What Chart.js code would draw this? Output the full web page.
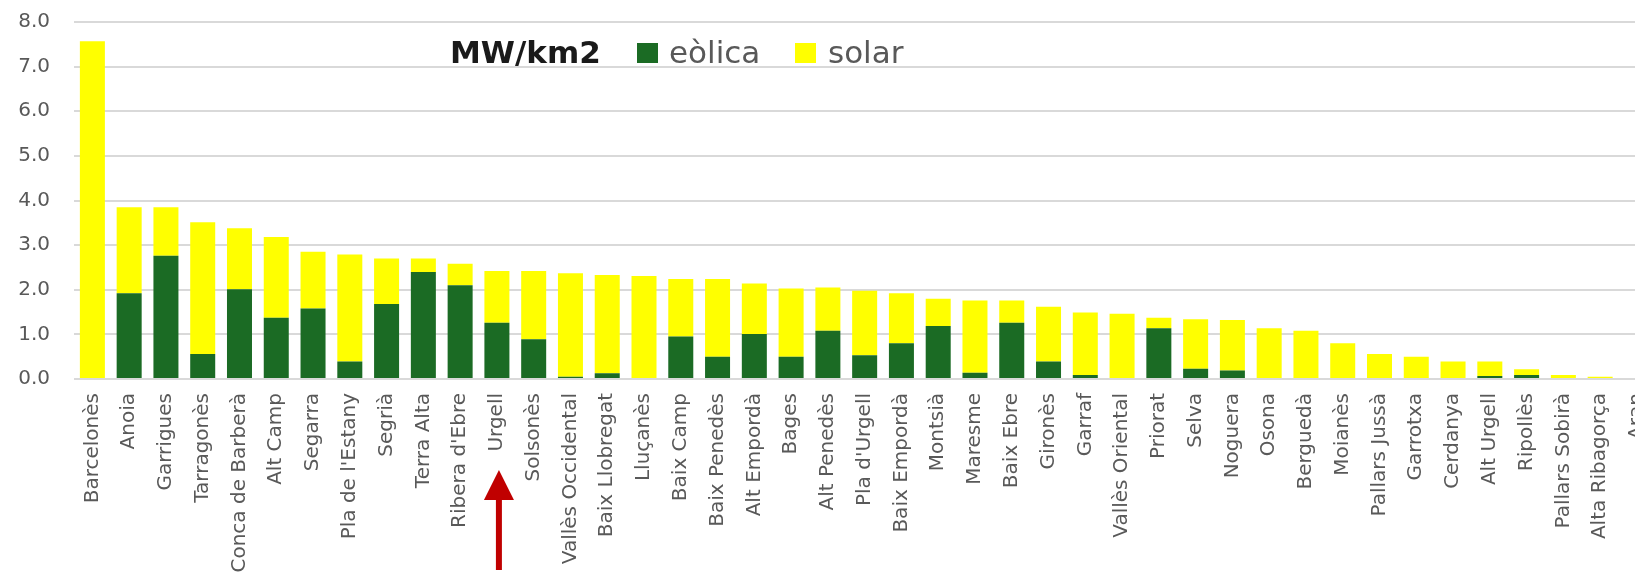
<!DOCTYPE html>
<html>
<head>
<meta charset="utf-8">
<script src="https://cdn.jsdelivr.net/npm/chart.js@4/dist/chart.umd.min.js"></script>
<style>
  html, body { margin: 0; padding: 0; background: #ffffff; overflow: hidden; }
  #wrap { width: 1635px; height: 575px; overflow: hidden; }
  canvas { display: block; }
</style>
</head>
<body>
<div id="wrap"><canvas id="c" width="1675" height="575"></canvas></div>
<script>
const categories = ["Barcelonès","Anoia","Garrigues","Tarragonès","Conca de Barberà","Alt Camp","Segarra","Pla de l'Estany","Segrià","Terra Alta","Ribera d'Ebre","Urgell","Solsonès","Vallès Occidental","Baix Llobregat","Lluçanès","Baix Camp","Baix Penedès","Alt Empordà","Bages","Alt Penedès","Pla d'Urgell","Baix Empordà","Montsià","Maresme","Baix Ebre","Gironès","Garraf","Vallès Oriental","Priorat","Selva","Noguera","Osona","Berguedà","Moianès","Pallars Jussà","Garrotxa","Cerdanya","Alt Urgell","Ripollès","Pallars Sobirà","Alta Ribagorça","Aran"];
const eolica = [0.00,1.92,2.76,0.56,2.01,1.37,1.58,0.39,1.68,2.40,2.10,1.26,0.89,0.05,0.13,0.00,0.95,0.50,1.01,0.50,1.08,0.53,0.80,1.19,0.14,1.26,0.39,0.09,0.00,1.14,0.23,0.19,0.00,0.00,0.00,0.00,0.00,0.00,0.07,0.09,0.00,0.00,0.00];
const solar = [7.57,1.93,1.09,2.95,1.37,1.81,1.27,2.40,1.02,0.30,0.48,1.16,1.53,2.32,2.20,2.31,1.29,1.74,1.13,1.53,0.97,1.45,1.12,0.61,1.62,0.50,1.23,1.40,1.46,0.23,1.11,1.13,1.14,1.08,0.80,0.56,0.50,0.39,0.32,0.13,0.09,0.05,0.00];
const yTicks = [0,1,2,3,4,5,6,7,8];
const legendTitle = "MW/km2";
const seriesNames = ["eòlica","solar"];
const highlighted = "Urgell";

const GREEN = "#1b6b24";
const YELLOW = "#ffff00";

const legendPlugin = {
  id: 'customLegend',
  afterDraw(chart) {
    const ctx = chart.ctx;
    ctx.save();
    ctx.textBaseline = 'alphabetic';
    ctx.textAlign = 'left';
    ctx.font = 'bold 31px "DejaVu Sans"';
    ctx.fillStyle = '#1a1a1a';
    ctx.fillText(legendTitle, 450, 63);
    const ds = chart.data.datasets;
    const items = [{box: 637, text: 669}, {box: 795, text: 828}];
    ctx.font = '31px "DejaVu Sans"';
    items.forEach((it, i) => {
      ctx.fillStyle = ds[i].backgroundColor;
      ctx.fillRect(it.box, 43, 21, 20);
      ctx.fillStyle = '#595959';
      ctx.fillText(ds[i].label, it.text, 63);
    });
    ctx.restore();
  }
};

const arrowPlugin = {
  id: 'arrow',
  afterDraw(chart) {
    const ctx = chart.ctx;
    const x = chart.scales.x.getPixelForValue(categories.indexOf(highlighted)) + 2;
    const tip = 470, headBase = 500, tail = 570;
    ctx.save();
    ctx.fillStyle = '#c00000';
    ctx.beginPath();
    ctx.moveTo(x, tip);
    ctx.lineTo(x + 15, headBase);
    ctx.lineTo(x - 15, headBase);
    ctx.closePath();
    ctx.fill();
    ctx.fillRect(x - 3, headBase - 1, 6, tail - headBase + 1);
    ctx.restore();
  }
};

new Chart(document.getElementById('c'), {
  type: 'bar',
  data: {
    labels: categories,
    datasets: [
      { label: seriesNames[0], data: eolica, backgroundColor: GREEN, barPercentage: 0.68, categoryPercentage: 1.0 },
      { label: seriesNames[1], data: solar, backgroundColor: YELLOW, barPercentage: 0.68, categoryPercentage: 1.0 }
    ]
  },
  options: {
    responsive: false,
    animation: false,
    devicePixelRatio: 1,
    layout: { padding: { top: 22, right: 7, bottom: 0, left: 0 } },
    plugins: { legend: { display: false }, tooltip: { enabled: false }, title: { display: false } },
    scales: {
      x: {
        stacked: true,
        grid: { display: false, drawTicks: false },
        border: { display: false },
        ticks: {
          autoSkip: false, minRotation: 90, maxRotation: 90, padding: 14,
          color: '#595959', font: { family: '"DejaVu Sans"', size: 20 }
        },
        afterFit(scale) { scale.height = 196; }
      },
      y: {
        stacked: true,
        min: 0, max: 8,
        afterBuildTicks(scale) { scale.ticks = yTicks.map(v => ({ value: v })); },
        grid: { color: '#d9d9d9', lineWidth: 2, drawTicks: false },
        border: { display: false },
        ticks: {
          padding: 24, color: '#595959',
          font: { family: '"DejaVu Sans"', size: 20 },
          callback: v => Number(v).toFixed(1)
        },
        afterFit(scale) { scale.width = 74; scale.paddingTop = 0; scale.paddingBottom = 0; }
      }
    }
  },
  plugins: [legendPlugin, arrowPlugin]
});
</script>
</body>
</html>
